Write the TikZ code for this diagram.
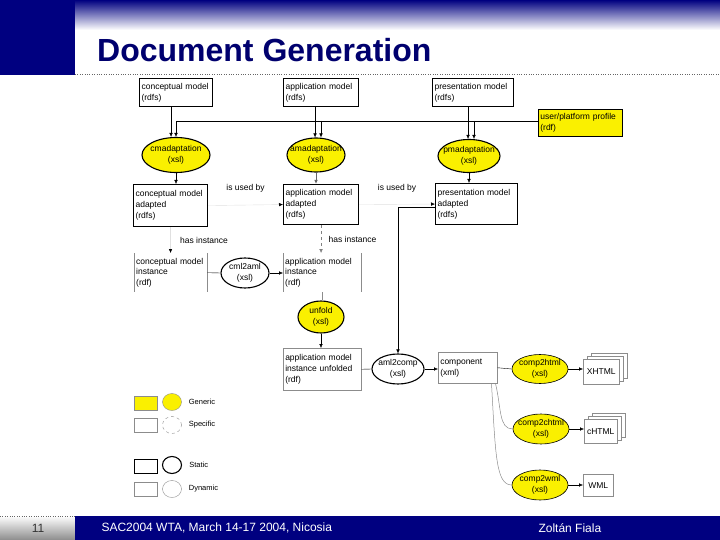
\documentclass[tikz,border=0pt]{standalone}
\usepackage{fontspec}
\setmainfont{Liberation Sans}
\usepackage{tikz}
\usetikzlibrary{positioning, shapes.geometric, arrows.meta}
\definecolor{navy}{RGB}{0,0,128}
\definecolor{titleblue}{RGB}{0,0,110}
\definecolor{genyellow}{RGB}{250,240,0}

\begin{document}
\begin{tikzpicture}[x=1pt,y=-1pt,>={Latex[length=4pt,width=3.5pt]},font=\fontsize{8.5}{10.8}\selectfont]

	\tikzstyle{statbox}=[draw=black,line width=1.1pt,anchor=north west,align=left,inner sep=2pt]
	\tikzstyle{dynbox}=[draw=black!45,line width=0.5pt,fill=white,anchor=north west,align=left,inner sep=2pt]
	\tikzstyle{sidebox}=[anchor=north west,align=left,inner sep=2pt]
	\tikzstyle{trafo}=[ellipse,draw=black,line width=1.1pt,inner xsep=-8pt,inner ysep=-1pt,align=center]
	\tikzstyle{thintrafo}=[ellipse,draw=black,line width=0.6pt,inner xsep=-8pt,inner ysep=-1pt,align=center]
	\tikzstyle{generic}=[fill=genyellow]
	\tikzstyle{faint}=[draw=black!12,-{Latex[length=4pt,width=3.5pt,color=black]}]
	\tikzstyle{curvy}=[draw=black!45,line width=0.5pt]
	\tikzstyle{legtext}=[font=\fontsize{7.5}{8}\selectfont,inner sep=2pt]

	\useasboundingbox (0,0) rectangle (720,540);

	% slide frame
	\fill[navy] (0,0) rectangle (75,75);
	\shade[top color=navy,bottom color=white] (75,0) rectangle (720,30);
	\draw[dotted,black!60] (75,74) -- (720,74);
	\node[anchor=base west,font=\fontsize{32}{34}\selectfont\bfseries,text=titleblue,inner sep=0pt] (title) at (97,62) {Document Generation};
	\shade[top color=white,bottom color=black!45] (0,516) rectangle (75,540);
	\draw[dotted,black!60] (0,516) -- (75,516);
	\fill[navy] (75,516) rectangle (720,540);
	\node[font=\fontsize{12}{14}\selectfont,text=black!80] (pageno) at (38,528) {11};
	\node[anchor=west,font=\fontsize{12}{14}\selectfont,text=white] (event) at (98,528) {SAC2004 WTA, March 14-17 2004, Nicosia};
	\node[anchor=west,font=\fontsize{12}{14}\selectfont,text=white] (author) at (535,528) {Zoltán Fiala};

	% models
	\node[statbox,text width=69pt,minimum height=28pt] (cm) at (139,78) {conceptual model\\(rdfs)};
	\node[statbox,text width=71pt,minimum height=28pt] (am) at (283,78) {application model\\(rdfs)};
	\node[statbox,text width=77pt,minimum height=28pt] (pm) at (432,78) {presentation model\\(rdfs)};
	\node[statbox,generic,line width=0.7pt,text width=80pt,minimum height=27pt] (prof) at (538,109) {user/platform profile\\(rdf)};

	\node[trafo,generic,minimum width=68pt,minimum height=35pt] (cma) at (176,155) {cmadaptation\\(xsl)};
	\node[trafo,generic,minimum width=58pt,minimum height=34pt] (ama) at (316,155) {amadaptation\\(xsl)};
	\node[trafo,generic,minimum width=62pt,minimum height=33pt] (pma) at (469,156) {pmadaptation\\(xsl)};

	\node[statbox,text width=70pt,minimum height=42pt] (cmad) at (133,184) {conceptual model\\adapted\\(rdfs)};
	\node[statbox,text width=71pt,minimum height=40pt] (amad) at (283,184) {application model\\adapted\\(rdfs)};
	\node[statbox,text width=78pt,minimum height=41pt] (pmad) at (435,183) {presentation model\\adapted\\(rdfs)};

	\node[sidebox,text width=69pt,minimum height=39pt] (cmi) at (134,253) {conceptual model\\instance\\(rdf)};
	\node[sidebox,text width=74pt,minimum height=39pt] (ami) at (283,253) {application model\\instance\\(rdf)};
	\node[trafo,minimum width=48pt,minimum height=30pt] (cml) at (245,273) {cml2aml\\(xsl)};
	\node[trafo,generic,minimum width=46pt,minimum height=32pt] (unf) at (321,317) {unfold\\(xsl)};
	\node[dynbox,text width=74pt,minimum height=42pt] (amu) at (283,348) {application model\\instance unfolded\\(rdf)};
	\node[trafo,minimum width=52pt,minimum height=30pt] (a2c) at (398,369) {aml2comp\\(xsl)};
	\node[dynbox,text width=55pt,minimum height=31pt] (comp) at (438,352) {component\\(xml)};

	\node[thintrafo,generic,minimum width=56pt,minimum height=29pt] (c2h) at (540,369) {comp2html\\(xsl)};
	\node[thintrafo,generic,minimum width=56pt,minimum height=30pt] (c2c) at (541,429) {comp2chtml\\(xsl)};
	\node[thintrafo,generic,minimum width=56pt,minimum height=30pt] (c2w) at (540,485) {comp2wml\\(xsl)};

	\node[dynbox,minimum width=36pt,minimum height=25pt] (xhC) at (591,353) {};
	\node[dynbox,minimum width=36pt,minimum height=25pt] (xhB) at (587,356) {};
	\node[dynbox,minimum width=36pt,minimum height=25pt,align=center] (xh) at (583,359) {XHTML};
	\node[dynbox,minimum width=33pt,minimum height=24pt] (chC) at (592,413) {};
	\node[dynbox,minimum width=33pt,minimum height=24pt] (chB) at (588,416) {};
	\node[dynbox,minimum width=33pt,minimum height=24pt,align=center] (ch) at (584,419) {cHTML};
	\node[dynbox,minimum width=30pt,minimum height=22pt,align=center] (wml) at (583,474) {WML};

	% connectors
	\draw[->] ([xshift=-5pt]cm.south) -- ([xshift=-5pt]cm.south |- cma.north);
	\draw[->] ([xshift=-6pt]am.south) -- ([xshift=-6pt]am.south |- ama.north);
	\draw[->] ([xshift=-5pt]pm.south) -- ([xshift=-5pt]pm.south |- pma.north);
	\draw[->] ([yshift=2pt]prof.west) -| (cma.north);
	\draw[->] ([xshift=5pt]ama.north |- prof.west) ++(0,-2) -- ([xshift=5pt]ama.north);
	\draw[->] ([xshift=5pt]pma.north |- prof.west) ++(0,-2) -- ([xshift=5pt]pma.north);

	\draw[->] (cma.south) -- (cma.south |- cmad.north);
	\draw[->,draw=black!60,line width=1pt] (ama.south) -- (ama.south |- amad.north);
	\draw[->] (pma.south) -- (pma.south |- pmad.north);

	\draw[faint] (cmad.east) -- node[above=9pt,text=black] (used1) {is used by} (amad.west);
	\draw[faint] (amad.east) -- node[above=9pt,text=black] (used2) {is used by} (pmad.west);
	\draw[faint] (cmad.south) -- node[right=6pt,text=black] (inst1) {has instance} (cmad.south |- cmi.north);
	\draw[->,dashed,draw=black!50] (amad.south) -- node[right=4pt,text=black] (inst2) {has instance} (amad.south |- ami.north);

	\draw[draw=black!45] (cmi.north west) -- (cmi.south west) (cmi.north east) -- (cmi.south east);
	\draw[draw=black!45] (ami.north west) -- (ami.south west) (ami.north east) -- (ami.south east);

	\draw (cmi.east) -- (cml.west);
	\draw[->] (cml.east) -- (cml.east -| ami.west);
	\draw[draw=black!45] (ami.south) -- (ami.south |- unf.north);
	\draw[->] (unf.south) -- (unf.south |- amu.north);
	\draw (amu.east) -- (a2c.west);
	\draw[->] ([yshift=-3pt]pmad.west) -| (a2c.north);
	\draw[->] (a2c.east) -- (a2c.east -| comp.west);

	\draw (comp.east) -- (c2h.west);
	\draw[curvy] ([xshift=-2pt]comp.south east) .. controls +(6,25) and +(-14,0) .. (c2c.west);
	\draw[curvy] ([xshift=-6pt]comp.south east) .. controls +(4,70) and +(-16,0) .. (c2w.west);
	\draw[->] (c2h.east) -- (c2h.east -| xh.west);
	\draw[->] (c2c.east) -- (c2c.east -| ch.west);
	\draw[->] (c2w.east) -- (c2w.east -| wml.west);

	% legend
	\node[dynbox,generic,minimum width=23pt,minimum height=14pt] (lgGen) at (134,396) {};
	\node[ellipse,draw=black!45,generic,minimum width=19pt,minimum height=17pt,inner sep=0pt] (lgGenE) at (172,402) {};
	\node[legtext,right=5pt of lgGenE] (lgGenT) {Generic};
	\node[dynbox,minimum width=23pt,minimum height=14pt] (lgSpec) at (134,418) {};
	\node[ellipse,draw=black!45,dashed,minimum width=19pt,minimum height=17pt,inner sep=0pt] (lgSpecE) at (172,425) {};
	\node[legtext,right=5pt of lgSpecE] (lgSpecT) {Specific};
	\node[statbox,minimum width=23pt,minimum height=14pt] (lgStat) at (134,459) {};
	\node[ellipse,draw=black,line width=1.1pt,minimum width=19pt,minimum height=17pt,inner sep=0pt] (lgStatE) at (172,465) {};
	\node[legtext,right=5pt of lgStatE] (lgStatT) {Static};
	\node[dynbox,minimum width=23pt,minimum height=14pt] (lgDyn) at (134,482) {};
	\node[ellipse,draw=black!45,minimum width=19pt,minimum height=17pt,inner sep=0pt] (lgDynE) at (172,489) {};
	\node[legtext,right=5pt of lgDynE] (lgDynT) {Dynamic};

\end{tikzpicture}
\end{document}
